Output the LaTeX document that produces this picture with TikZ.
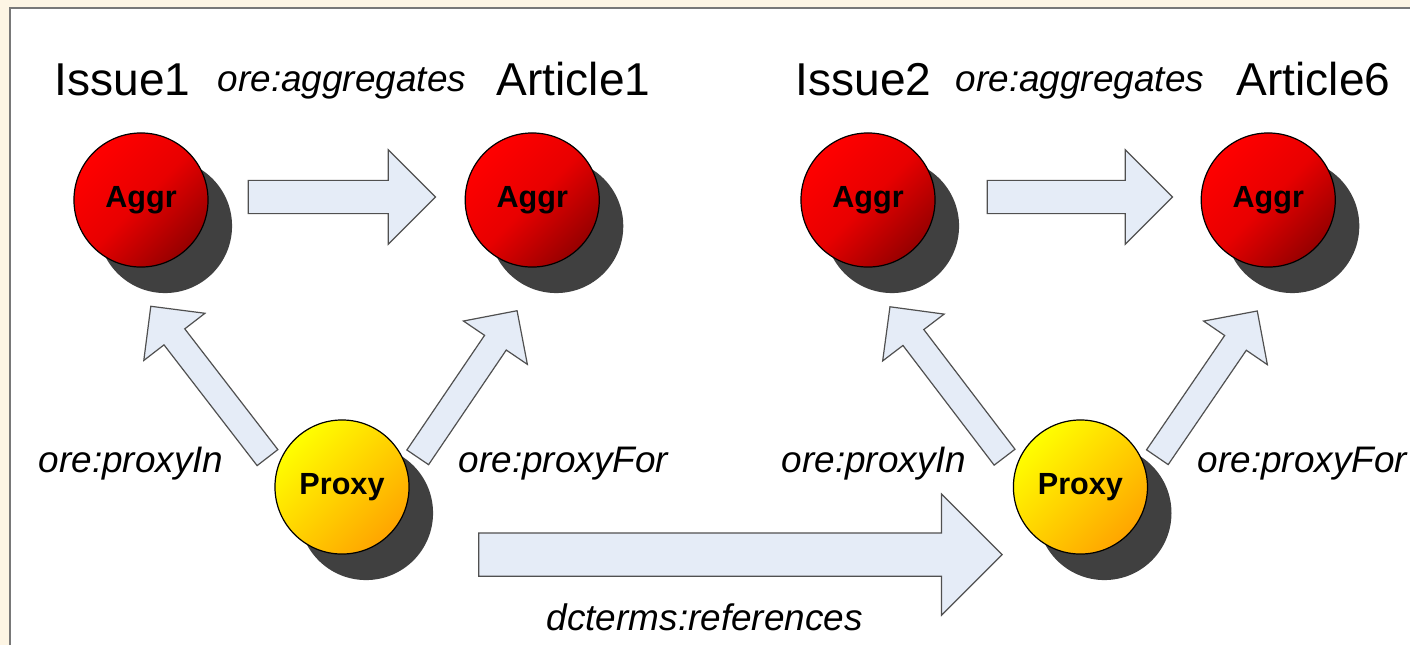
\documentclass[tikz,border=0pt]{standalone}
\usepackage{fontspec}
\setmainfont{Liberation Sans}
\usetikzlibrary{positioning,shapes.arrows,shadows}

\definecolor{paper}{RGB}{253,245,228}
\definecolor{framegray}{RGB}{120,120,120}
\definecolor{arrowfill}{RGB}{229,236,247}
\definecolor{arrowline}{RGB}{80,80,80}
\definecolor{shadowgray}{RGB}{64,64,64}
\definecolor{lightred}{RGB}{255,0,0}
\definecolor{midred}{RGB}{232,0,0}
\definecolor{darkred}{RGB}{150,0,0}
\definecolor{lightyellow}{RGB}{255,255,0}
\definecolor{darkyellow}{RGB}{255,165,0}

\begin{document}
\begin{tikzpicture}[x=0.01cm,y=-0.01cm,
    ball/.style={circle,draw=black,line width=0.012cm,minimum size=1.34cm,
		inner sep=0pt,font=\fontsize{8.7}{10}\selectfont\bfseries,
		drop shadow={shadow xshift=0.24cm,shadow yshift=-0.26cm,
		fill=shadowgray,opacity=1}},
    aggr/.style={ball,top color=lightred,bottom color=darkred,middle color=midred,
		shading angle=45},
    proxy/.style={ball,top color=lightyellow,bottom color=darkyellow,shading angle=45},
% Fat arrow styles
    fat/.style={single arrow,draw=arrowline,fill=arrowfill,line width=0.012cm,
		inner xsep=0pt,sloped,allow upside down,minimum height=#1},
    fatdiag/.style={inner ysep=0.125cm,single arrow head extend=0.255cm},
    fattop/.style={inner ysep=0.16cm,single arrow head extend=0.305cm},
    fatbot/.style={inner ysep=0.21cm,single arrow head extend=0.39cm},
% Label styles
    title/.style={anchor=base west,inner sep=0pt,font=\fontsize{13.1}{15}\selectfont},
    rel/.style={anchor=base west,inner sep=0pt,font=\fontsize{10.5}{12}\selectfont\itshape},
    node distance=3.91cm,on grid
    ]
   \useasboundingbox (0,0) rectangle (1410,645);
%%% Frame
   \fill [paper] (0,0) rectangle (1410,645);
   \fill [white] (10,8) rectangle (1410,645);
   \draw [framegray,line width=0.025cm] (10,645) -- (10,8) -- (1410,8);

%%% Resources
   \node [aggr] (ai1) at (141,200) {Aggr};
   \node [aggr] (aa1) [right=of ai1] {Aggr};
   \node [aggr] (ig2) at (868,200) {Aggr};
   \node [aggr] (a6) [right=4cm of ig2] {Aggr};
   \node [proxy] (pl) at (342,487) {Proxy};
   \node [proxy] (pr) [right=7.38cm of pl] {Proxy};

%%% Names and relations
   \node [title] (tissue1) at (54,95) {Issue1};
   \node [rel] (tagg1) at (217,91) {ore:aggregates};
   \node [title] (tart1) at (496,95) {Article1};
   \node [title] (tissue2) at (795,95) {Issue2};
   \node [rel] (tagg2) at (955,91) {ore:aggregates};
   \node [title] (tart6) at (1236,95) {Article6};
   \node [rel] (tin1) at (38,472) {ore:proxyIn};
   \node [rel] (tfor1) at (458,472) {ore:proxyFor};
   \node [rel] (tin2) at (781,472) {ore:proxyIn};
   \node [rel] (tfor2) at (1197,472) {ore:proxyFor};
   \node [rel] (tref) at (546,630) {dcterms:references};

%%% Fat arrows
   \path ([yshift=0.03cm]ai1.east) -- node [fat=1.87cm,fattop,pos=.488] (agg1) {} ([yshift=0.03cm]aa1.west);
   \path ([yshift=0.03cm]ig2.east) -- node [fat=1.85cm,fattop,pos=.513] (agg2) {} ([yshift=0.03cm]a6.west);
   \path (pl.165) -- node [fat=1.91cm,fatdiag,pos=.40] (in1) {} (ai1.250);
   \path (pl.13) -- node [fat=1.77cm,fatdiag,pos=.40] (for1) {} (aa1.283);
   \path (pr.166) -- node [fat=1.89cm,fatdiag,pos=.41] (in2) {} (ig2.263);
   \path (pr.12) -- node [fat=1.77cm,fatdiag,pos=.40] (for2) {} (a6.288);
   \path (pl.south) -- node [fat=5.23cm,fatbot,pos=.525] (ref) {} (pr.south);
\end{tikzpicture}
\end{document}
